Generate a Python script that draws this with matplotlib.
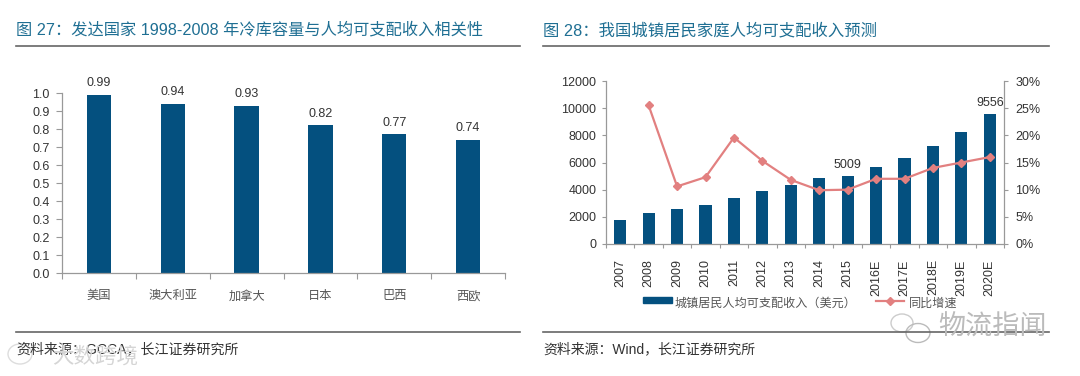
#!/usr/bin/env python3
import matplotlib
matplotlib.use('Agg')
import matplotlib.pyplot as plt
from matplotlib.lines import Line2D
from matplotlib.patches import Ellipse, Rectangle

plt.rcParams['font.family'] = ['Liberation Sans', 'Noto Sans CJK SC']

W, H = 1080, 376
BLUE = '#04507f'
RED = '#e28080'
TITLE = '#1f6f93'
TEXT = '#333333'
AXIS = '#999999'

countries = ['美国', '澳大利亚', '加拿大', '日本', '巴西', '西欧']
corr = [0.99, 0.94, 0.93, 0.82, 0.77, 0.74]
corr_ticks = [0.0, 0.1, 0.2, 0.3, 0.4, 0.5, 0.6, 0.7, 0.8, 0.9, 1.0]

years = ['2007', '2008', '2009', '2010', '2011', '2012', '2013', '2014', '2015',
         '2016E', '2017E', '2018E', '2019E', '2020E']
income = [1800, 2290, 2550, 2870, 3360, 3930, 4350, 4830, 5009, 5650, 6300, 7200, 8250, 9556]
growth = [None, 25.5, 10.6, 12.3, 19.6, 15.3, 11.8, 9.9, 10.0, 12.0, 12.0, 14.0, 15.0, 16.0]
income_ticks = [0, 2000, 4000, 6000, 8000, 10000, 12000]
growth_ticks = [0, 5, 10, 15, 20, 25, 30]
labelled = {'2015': 5009, '2020E': 9556}


def px_axes(fig, x0, y0, x1, y1):
    # pixel box, y counted from the top
    return fig.add_axes([x0 / W, 1 - y1 / H, (x1 - x0) / W, (y1 - y0) / H])


def px_text(fig, x, y, s, **kw):
    kw.setdefault('va', 'center')
    return fig.text(x / W, 1 - y / H, s, **kw)


def px_rule(fig, x0, x1, y, color='#666666', lw=1.2):
    fig.add_artist(Line2D([x0 / W, x1 / W], [1 - y / H, 1 - y / H], color=color, lw=lw))


def px_bubble(fig, x, y, w, h, color):
    fig.add_artist(Ellipse((x / W, 1 - y / H), w / W, h / H, transform=fig.transFigure,
                           fill=False, ec=color, lw=1.0))


def style_axis(ax):
    for s in ['top', 'right']:
        ax.spines[s].set_visible(False)
    for s in ['left', 'bottom']:
        ax.spines[s].set_color(AXIS)
        ax.spines[s].set_linewidth(0.9)


fig = plt.figure(figsize=(W / 100, H / 100), dpi=100)

# 左图
px_text(fig, 16, 30, '图 27：发达国家 1998-2008 年冷库容量与人均可支配收入相关性', fontsize=11.7, color=TITLE)
px_rule(fig, 16, 520, 46)
px_rule(fig, 16, 520, 332)
px_text(fig, 16, 349, '资料来源：GCCA，长江证券研究所', fontsize=10.05, color=TEXT)

ax = px_axes(fig, 62, 93, 505, 273)
style_axis(ax)
pos = range(len(countries))
ax.bar(pos, corr, width=0.33, color=BLUE)
for i, v in zip(pos, corr):
    ax.text(i, v + 0.03, f'{v:.2f}', ha='center', va='bottom', fontsize=9, color=TEXT)
ax.set_xlim(-0.5, len(countries) - 0.5)
ax.set_ylim(0, 1.0)
ax.set_yticks(corr_ticks)
ax.set_yticklabels([f'{v:.1f}' for v in corr_ticks], fontsize=9, color=TEXT)
ax.set_xticks([i - 0.5 for i in range(len(countries) + 1)])
ax.set_xticklabels([])
ax.tick_params(axis='y', length=4, width=0.8, color=AXIS, pad=5)
ax.tick_params(axis='x', length=4, width=0.8, color=AXIS, direction='out')
for i, c in zip(pos, countries):
    ax.text(i, -0.13, c, ha='center', va='center', fontsize=8.8, color='#555555')

# 右图
px_text(fig, 543, 30, '图 28：我国城镇居民家庭人均可支配收入预测', fontsize=11.75, color=TITLE)
px_rule(fig, 543, 1049, 46)
px_rule(fig, 543, 1049, 332)
px_text(fig, 543, 349, '资料来源：Wind，长江证券研究所', fontsize=10.0, color=TEXT)

ax2 = px_axes(fig, 606, 81, 1004, 244)
style_axis(ax2)
pos2 = list(range(len(years)))
ax2.bar(pos2, income, width=0.43, color=BLUE)
for i, y in enumerate(years):
    if y in labelled:
        ax2.text(i, labelled[y] + 800, str(labelled[y]), ha='center', va='center', fontsize=9, color=TEXT)
ax2.set_xlim(-0.5, len(years) - 0.5)
ax2.set_ylim(0, 12000)
ax2.set_yticks(income_ticks)
ax2.set_yticklabels([str(v) for v in income_ticks], fontsize=9, color=TEXT)
ax2.set_xticks([i - 0.5 for i in range(len(years) + 1)])
ax2.set_xticklabels([])
ax2.tick_params(axis='y', length=3, width=0.8, color=AXIS, pad=4)
ax2.tick_params(axis='x', length=3, width=0.8, color=AXIS)
for i, y in enumerate(years):
    ax2.text(i, -1130, y, rotation=90, ha='center', va='top', fontsize=9, color=TEXT)

ax3 = ax2.twinx()
ax3.patch.set_visible(False)
for s in ['top', 'left', 'bottom']:
    ax3.spines[s].set_visible(False)
ax3.spines['right'].set_color(AXIS)
ax3.spines['right'].set_linewidth(0.9)
gx = [i for i, g in zip(pos2, growth) if g is not None]
gy = [g for g in growth if g is not None]
ax3.plot(gx, gy, color=RED, lw=1.6, marker='D', ms=3.8, mfc=RED, mec=RED)
ax3.set_ylim(0, 30)
ax3.set_yticks(growth_ticks)
ax3.set_yticklabels([f'{v}%' for v in growth_ticks], fontsize=9, color=TEXT)
ax3.tick_params(axis='y', length=3, width=0.8, color=AXIS, pad=5)

# 图例
fig.add_artist(Rectangle((643 / W, 1 - 303 / H), 29 / W, 6 / H, transform=fig.transFigure, color=BLUE))
px_text(fig, 675, 304, '城镇居民人均可支配收入（美元）', fontsize=8.7, color='#555555')
fig.add_artist(Line2D([876 / W, 904 / W], [1 - 300.5 / H, 1 - 300.5 / H], color=RED, lw=1.6))
fig.add_artist(Line2D([890 / W], [1 - 300.5 / H], color=RED, marker='D', ms=3.8, mfc=RED, mec=RED))
px_text(fig, 909, 304, '同比增速', fontsize=8.7, color='#555555')

# 水印
px_bubble(fig, 902, 323, 22, 18, '#cccccc')
px_bubble(fig, 918, 333, 24, 19, '#bbbbbb')
px_text(fig, 938, 328, '物流指闻', fontsize=19.5, color='#bbbbbb')
px_bubble(fig, 20, 354, 24, 20, '#dddddd')
px_text(fig, 52, 357, '大数跨境', fontsize=15.5, color='#d5d5d5')

fig.savefig('out.png', dpi=100)
